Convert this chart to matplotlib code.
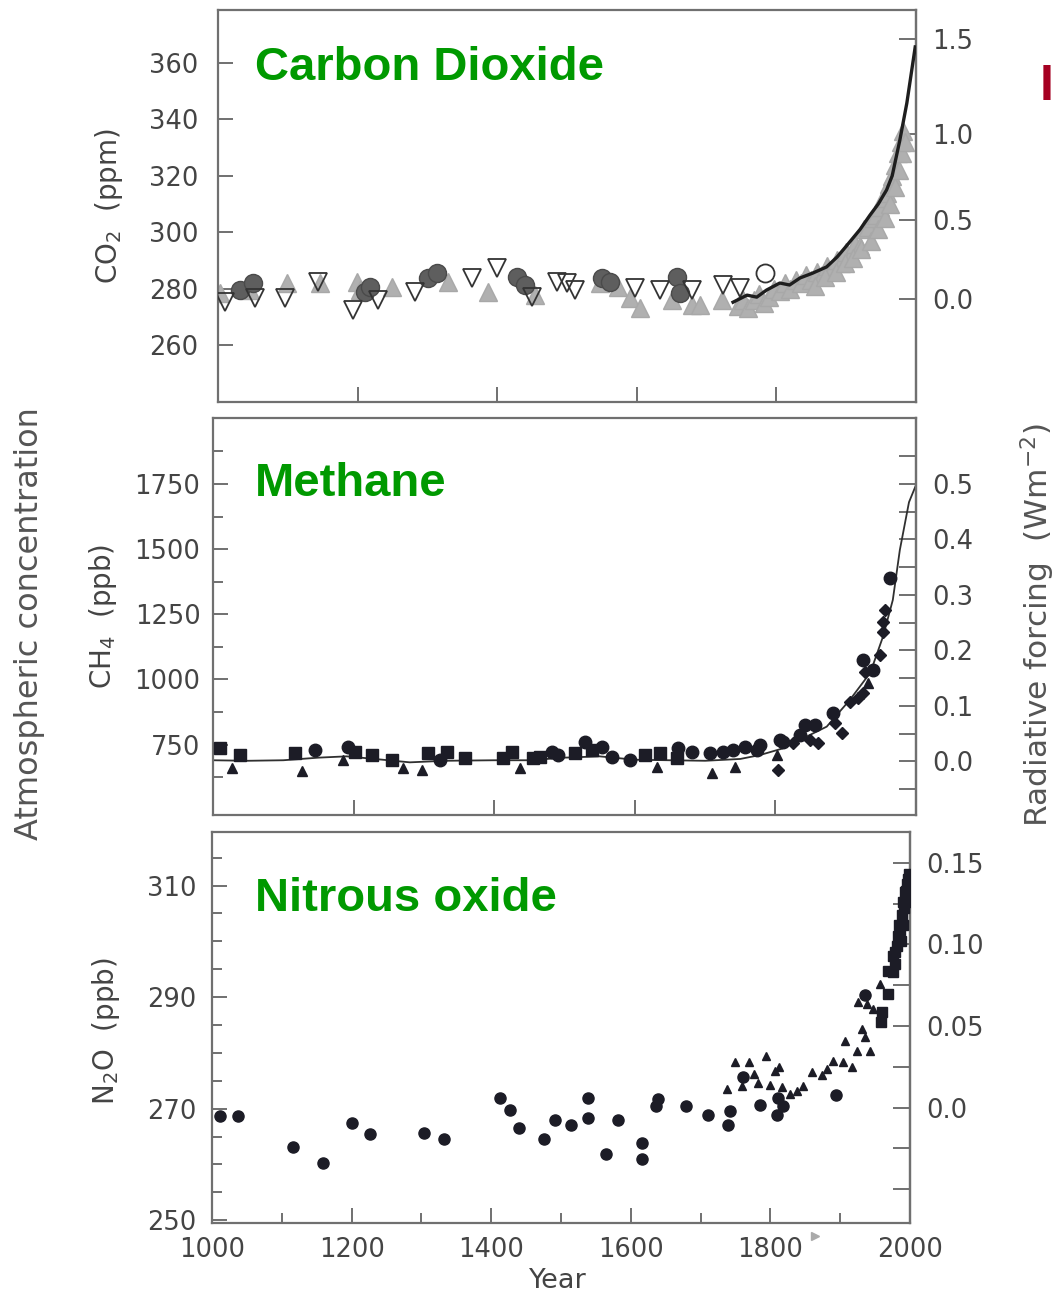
import numpy as np
import matplotlib
matplotlib.use("Agg")
import matplotlib.pyplot as plt

# ---------------- data ----------------
# CO2 panel (year, ppm)
co2_open_tri_year = [1010, 1053, 1096, 1143, 1193, 1229, 1282, 1364, 1400, 1450, 1486, 1500, 1511,
                     1597, 1633, 1679, 1723, 1748]
co2_open_tri_ppm = [275.2, 276.7, 276.7, 282.3, 272.4, 276.0, 278.8, 283.8, 287.3, 277.0, 282.3, 282.0,
                    279.5, 280.2, 279.5, 279.5, 281.3, 280.2]

co2_circle_year = [1031, 1050, 1211, 1218, 1301, 1314, 1428, 1440, 1550, 1562, 1657, 1662]
co2_circle_ppm = [279.5, 282.0, 278.8, 280.6, 283.8, 285.5, 284.1, 281.3, 283.8, 282.3, 284.1, 278.4]

co2_gray_tri_year = [1003, 1046, 1099, 1146, 1199, 1203, 1249, 1329, 1387, 1454, 1547, 1573, 1590,
                     1605, 1650, 1679, 1690, 1722,
                     1745, 1752, 1760, 1768, 1775, 1782, 1790, 1797, 1805, 1812, 1820, 1828, 1835,
                     1842, 1850, 1858, 1865, 1872, 1880, 1887, 1893, 1900, 1907, 1913, 1920, 1926,
                     1932, 1938, 1943, 1948, 1953, 1958, 1962, 1966, 1970, 1974, 1978, 1982,
                     1855, 1870, 1885, 1898, 1910, 1922, 1935, 1945, 1955, 1963, 1970, 1976, 1980, 1984]
co2_gray_tri_ppm = [278.4, 279.5, 282.0, 282.0, 282.3, 279.5, 280.6, 282.3, 278.8, 277.7, 282.0, 280.6,
                    276.7, 273.1, 276.0, 274.2, 274.2, 276.0,
                    274, 276, 273, 276, 278, 275, 277, 280, 279, 282, 280, 283, 282,
                    285, 283, 286, 285, 288, 287, 290, 289, 293, 292, 296, 295, 301,
                    302, 305, 306, 309, 312, 314, 317, 320, 324, 328, 332, 336,
                    281, 284, 286, 289, 291, 294, 297, 301, 305, 310, 316, 322, 328, 332]

co2_line_year = [1738, 1758, 1772, 1786, 1805, 1819, 1834, 1852, 1872, 1887, 1900, 1920, 1934,
                 1946, 1958, 1966, 1977, 1987, 1999]
co2_line_ppm = [275.2, 277.7, 277.0, 279.5, 282.0, 281.3, 283.8, 285.5, 287.7, 291.2, 295.0, 301.0,
                306.0, 310.0, 315.0, 320.0, 332.7, 345.8, 365.7]

co2_open_circle_year = [1784]
co2_open_circle_ppm = [285.5]

# CH4 panel (year, ppb)
ch4_line_year = [1000, 1050, 1100, 1150, 1190, 1230, 1280, 1330, 1400, 1450, 1500, 1550, 1600,
                 1650, 1700, 1750, 1778, 1810, 1840, 1873, 1906, 1935, 1953, 1967, 1977, 1990, 2000]
ch4_line_ppb = [690, 688, 690, 700, 705, 695, 682, 688, 690, 690, 700, 705, 692,
                690, 688, 695, 710, 735, 775, 819, 922, 1026, 1164, 1305, 1497, 1680, 1746]

ch4_square_year = [1010, 1038, 1117, 1202, 1226, 1255, 1306, 1333, 1358, 1412, 1425, 1455, 1465,
                   1515, 1539, 1614, 1636, 1660]
ch4_square_ppb = [738, 712, 719, 723, 712, 692, 719, 723, 700, 700, 723, 700, 704,
                  719, 731, 712, 719, 700]

ch4_circle_year = [1145, 1192, 1323, 1482, 1491, 1529, 1553, 1567, 1593, 1661, 1681, 1707, 1725,
                   1740, 1757, 1774, 1778, 1806, 1811, 1835, 1842, 1856, 1882, 1924, 1939, 1963]
ch4_circle_ppb = [731, 742, 692, 723, 712, 761, 742, 704, 692, 738, 723, 719, 723,
                  731, 742, 731, 750, 769, 761, 788, 826, 826, 872, 1076, 1037, 1390]

ch4_tri_year = [1027, 1127, 1185, 1270, 1297, 1437, 1631, 1710, 1742, 1802, 1932]
ch4_tri_ppb = [662, 647, 692, 662, 654, 662, 666, 643, 666, 712, 987]

ch4_diamond_year = [1804, 1825, 1849, 1860, 1885, 1895, 1906, 1917, 1925, 1927, 1949, 1953, 1953, 1956]
ch4_diamond_ppb = [654, 758, 769, 758, 834, 796, 915, 930, 949, 1030, 1095, 1183, 1221, 1267]

# N2O panel (year, ppb)
n2o_circle_year = [1011, 1037, 1116, 1159, 1201, 1226, 1304, 1332, 1413, 1427, 1440, 1476, 1491,
                   1514, 1539, 1539, 1564, 1582, 1616, 1616, 1639, 1636, 1679, 1711, 1742, 1739,
                   1761, 1785, 1809, 1811, 1818, 1894, 1935]
n2o_circle_ppb = [268.6, 268.6, 263.2, 260.2, 267.5, 265.4, 265.7, 264.6, 272.0, 269.8, 266.6, 264.5,
                  267.9, 267.0, 272.0, 268.4, 261.8, 268.0, 263.9, 260.9, 271.8, 270.4, 270.4, 268.8,
                  269.5, 267.0, 275.7, 270.7, 268.9, 272.0, 270.4, 272.5, 290.4]

n2o_tri_year = [1749, 1769, 1794, 1738, 1759, 1776, 1782, 1799, 1807, 1812, 1817, 1828, 1838, 1847,
                1860, 1874, 1881, 1890, 1904, 1917, 1907, 1924, 1931, 1935, 1943, 1925, 1938, 1947,
                1957]
n2o_tri_ppb = [278.4, 278.4, 279.5, 273.6, 274.1, 276.3, 274.6, 274.3, 276.8, 277.5, 273.9, 272.7,
               273.2, 274.1, 276.6, 276.1, 277.1, 278.6, 278.4, 277.5, 282.1, 280.4, 284.3, 282.9,
               280.4, 289.1, 288.8, 287.9, 292.3]

n2o_square_year = [1960, 1958, 1968, 1968, 1976, 1976, 1978, 1979, 1981, 1983, 1984, 1986, 1987,
                   1988, 1990, 1990, 1992, 1993, 1994, 1995, 1996, 1997, 1998]
n2o_square_ppb = [287.3, 285.5, 290.5, 294.6, 294.5, 297.3, 296.0, 298.0, 299.1, 300.9, 303.0, 302.1,
                  300.0, 304.8, 307.1, 303.0, 306.0, 308.8, 307.0, 309.0, 310.2, 311.1, 312.0]

CO2_REF, CO2_K = 276.3, 5.2
CH4_REF, CH4_SCALE = 686.0, 2128.0
N2O_REF, N2O_K = 270.2, 0.00342

# ---------------- figure ----------------
fig = plt.figure(figsize=(10.58, 12.99), dpi=100)

SPINE = "#707070"
LABEL = "#444444"
MARK = "#1c1c26"


def style(ax, ypad):
    for s in ax.spines.values():
        s.set_color(SPINE)
        s.set_linewidth(1.6)
    ax.tick_params(which="both", direction="in", color=SPINE, labelcolor=LABEL,
                   labelsize=18.5, width=1.4)
    ax.tick_params(which="major", length=11)
    ax.tick_params(which="minor", length=7)
    ax.tick_params(axis="y", pad=ypad)
    ax.tick_params(axis="x", pad=10)


def style_sec(sec):
    sec.spines["right"].set_color(SPINE)
    sec.spines["right"].set_linewidth(1.6)
    sec.tick_params(which="both", direction="in", color=SPINE, labelcolor=LABEL,
                    labelsize=18.5, width=1.4, pad=11.5)
    sec.tick_params(which="major", length=12)
    sec.tick_params(which="minor", length=12)


# ---- CO2 ----
ax1 = fig.add_axes([0.206, 0.6905, 0.6597, 0.3018])
style(ax1, 14)
ax1.set_xlim(1000, 2000)
ax1.set_ylim(239.8, 378.8)
ax1.set_yticks([260, 280, 300, 320, 340, 360])
ax1.set_xticks([1200, 1400, 1600, 1800])
ax1.tick_params(axis="x", labelbottom=False)

ax1.plot(co2_gray_tri_year, co2_gray_tri_ppm, ls="none", marker="^", ms=12.5,
         color="#b0b0b0", mec="#a8a8a8", zorder=2)
ax1.plot(co2_circle_year, co2_circle_ppm, ls="none", marker="o", ms=13,
         color="#5e5e5e", mec="#4a4a4a", zorder=3)
ax1.plot(co2_open_tri_year, co2_open_tri_ppm, ls="none", marker="v", ms=13,
         mfc="none", mec="#333333", mew=1.3, zorder=4)
ax1.plot(co2_line_year, co2_line_ppm, color="#1e1e1e", lw=2.4, zorder=5)
ax1.plot(co2_open_circle_year, co2_open_circle_ppm, ls="none", marker="o", ms=13,
         mfc="none", mec="#333333", mew=1.3, zorder=4)

sec1 = ax1.secondary_yaxis("right", functions=(lambda c: CO2_K * np.log(np.clip(c, 1, None) / CO2_REF),
                                                 lambda f: CO2_REF * np.exp(f / CO2_K)))
style_sec(sec1)
sec1.set_yticks([0.0, 0.5, 1.0, 1.5])
sec1.set_yticklabels(["0.0", "0.5", "1.0", "1.5"])

ax1.set_ylabel("CO$_2$  (ppm)", fontsize=20, color=LABEL, va="center")
ax1.yaxis.set_label_coords(-0.156, 0.50)

# ---- CH4 ----
ax2 = fig.add_axes([0.2013, 0.3726, 0.6645, 0.3056])
style(ax2, 9)
ax2.set_xlim(1000, 2000)
ax2.set_ylim(480, 2003)
ax2.set_yticks([750, 1000, 1250, 1500, 1750])
ax2.set_yticks([625, 875, 1125, 1375, 1625, 1875], minor=True)
ax2.set_xticks([1200, 1400, 1600, 1800])
ax2.tick_params(axis="x", labelbottom=False)

ax2.plot(ch4_line_year, ch4_line_ppb, color="#303030", lw=1.3, zorder=2)
ax2.plot(ch4_square_year, ch4_square_ppb, ls="none", marker="s", ms=8.5, color=MARK, zorder=3)
ax2.plot(ch4_circle_year, ch4_circle_ppb, ls="none", marker="o", ms=9, color=MARK, zorder=3)
ax2.plot(ch4_tri_year, ch4_tri_ppb, ls="none", marker="^", ms=7.5, color=MARK, zorder=3)
ax2.plot(ch4_diamond_year, ch4_diamond_ppb, ls="none", marker="D", ms=6.5, color=MARK, zorder=3)

sec2 = ax2.secondary_yaxis("right", functions=(lambda c: (c - CH4_REF) / CH4_SCALE,
                                                 lambda f: f * CH4_SCALE + CH4_REF))
style_sec(sec2)
sec2.set_yticks([0.0, 0.1, 0.2, 0.3, 0.4, 0.5])
sec2.set_yticklabels(["0.0", "0.1", "0.2", "0.3", "0.4", "0.5"])
sec2.set_yticks([-0.05, 0.05, 0.15, 0.25, 0.35, 0.45, 0.55], minor=True)

ax2.set_ylabel("CH$_4$  (ppb)", fontsize=20, color=LABEL, va="center")
ax2.yaxis.set_label_coords(-0.157, 0.50)

# ---- N2O ----
ax3 = fig.add_axes([0.2004, 0.0585, 0.6597, 0.301])
style(ax3, 11)
ax3.set_xlim(1000, 2000)
ax3.set_ylim(249.5, 319.6)
ax3.set_yticks([250, 270, 290, 310])
ax3.set_yticks([255, 260, 265, 275, 280, 285, 295, 300, 305, 315], minor=True)
ax3.set_xticks([1000, 1200, 1400, 1600, 1800, 2000])
ax3.set_xticks([1100, 1300, 1500, 1700, 1900], minor=True)

ax3.plot(n2o_circle_year, n2o_circle_ppb, ls="none", marker="o", ms=8, color=MARK, zorder=3)
ax3.plot(n2o_tri_year, n2o_tri_ppb, ls="none", marker="^", ms=5.5, color=MARK, zorder=3)
ax3.plot(n2o_square_year, n2o_square_ppb, ls="none", marker="s", ms=7.5, color=MARK, zorder=3)
ax3.plot([1864], [247.2], ls="none", marker=">", ms=6, color="#aaaaaa", clip_on=False)

sec3 = ax3.secondary_yaxis("right", functions=(lambda c: (c - N2O_REF) * N2O_K,
                                                 lambda f: f / N2O_K + N2O_REF))
style_sec(sec3)
sec3.set_yticks([0.0, 0.05, 0.10, 0.15])
sec3.set_yticklabels(["0.0", "0.05", "0.10", "0.15"])
sec3.set_yticks([-0.05, -0.025, 0.025, 0.075, 0.125], minor=True)

ax3.set_ylabel("N$_2$O  (ppb)", fontsize=20, color=LABEL, va="center")
ax3.yaxis.set_label_coords(-0.152, 0.49)
ax3.set_xlabel("Year", fontsize=19.5, color=LABEL)
ax3.xaxis.set_label_coords(0.496, -0.115)

# ---- titles and outer labels ----
title_kw = dict(fontsize=34, fontweight="bold", color="#009900", family="Liberation Sans",
                ha="left", va="baseline")
fig.text(255 / 1058, 1 - 80 / 1299, "Carbon Dioxide", **title_kw)
fig.text(255 / 1058, 1 - 496 / 1299, "Methane", **title_kw)
fig.text(255 / 1058, 1 - 911 / 1299, "Nitrous oxide", **title_kw)

# partially visible heading at the right edge of the reference
fig.text(1040 / 1058, 1 - 100 / 1299, "I", fontsize=36, fontweight="bold",
         color="#a50021", family="Liberation Sans", ha="left", va="baseline")

fig.text(30 / 1058, 1 - 624 / 1299, "Atmospheric concentration", rotation=90, fontsize=23,
         color="#555555", ha="center", va="center")
fig.text(1038 / 1058, 1 - 625 / 1299, "Radiative forcing  (Wm$^{-2}$)", rotation=90, fontsize=22.5,
         color="#555555", ha="center", va="center")

fig.savefig("out.png", dpi=100)
